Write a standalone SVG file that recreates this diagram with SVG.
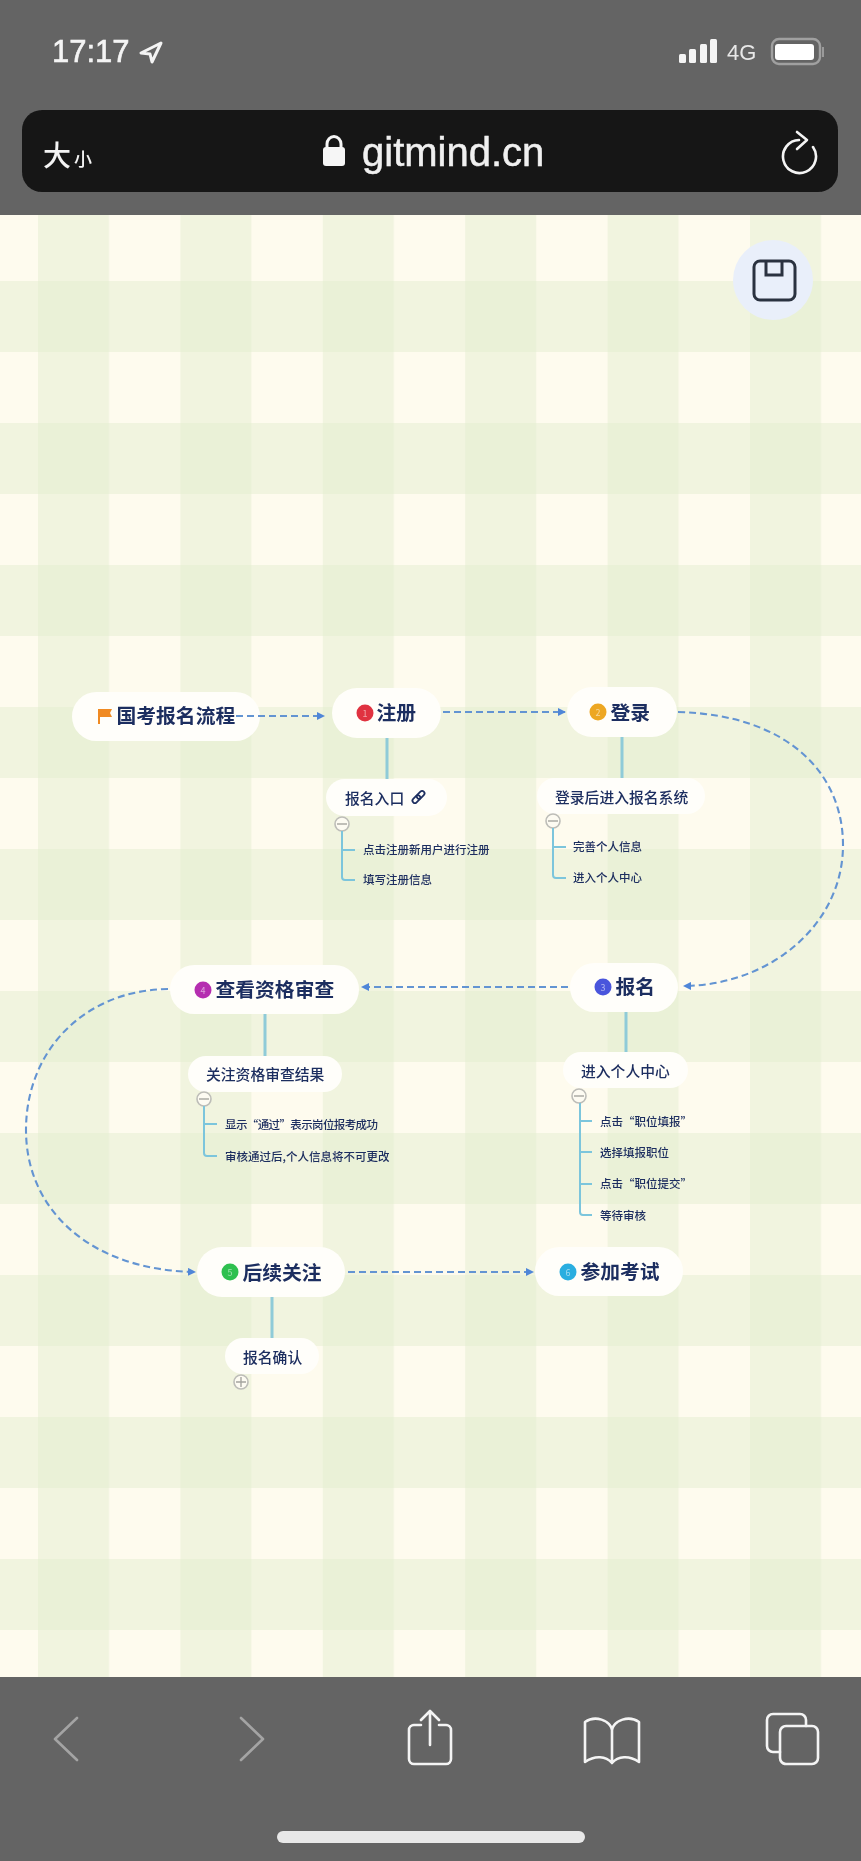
<svg xmlns="http://www.w3.org/2000/svg" width="861" height="1861" viewBox="0 0 861 1861">
<style>
text{font-family:"Noto Sans CJK SC","Liberation Sans",sans-serif;fill:#1f2f60;dominant-baseline:central}
.pill{fill:#fffefa}
.t1{font-size:19.8px;font-weight:700;transform:translate(-.5px,-1.5px)}
.t2{font-size:14.8px;font-weight:500;transform:translateY(-1px)}
.t3{font-size:11.5px;font-weight:500;transform:translateY(-1px)}
.bn{font-size:9px;fill:#fff;text-anchor:middle;fill-opacity:.55}
.stem{stroke:#8fcbd8;stroke-width:3;fill:none}
.br{stroke:#7cc5dc;stroke-width:2;fill:none}
.dash{stroke:#6494d2;stroke-width:2.1;fill:none;stroke-dasharray:7 4;marker-end:url(#ah)}
.fold{fill:#fdfbf2;stroke:#bdbdb8;stroke-width:1.6}
.foldm{stroke:#a5a5a0;stroke-width:1.4;fill:none}
.ic{fill:none;stroke:#f4f4f4;stroke-width:2.6;stroke-linejoin:round;stroke-linecap:round}
.ig{fill:none;stroke:#a4a4a4;stroke-width:2.6;stroke-linecap:round;stroke-linejoin:round}
</style>
<defs>
<marker id="ah" markerWidth="8" markerHeight="8" refX="7" refY="4" orient="auto" markerUnits="userSpaceOnUse"><path d="M0,0 L8,4 L0,8 Z" fill="#4f86d8"/></marker>
<pattern id="vb" patternUnits="userSpaceOnUse" x="38" y="0" width="142.4" height="100"><rect width="71" height="100" fill="#e4edd0" fill-opacity=".5"/></pattern>
<pattern id="hb" patternUnits="userSpaceOnUse" x="0" y="281" width="100" height="142"><rect width="100" height="71" fill="#e4edd0" fill-opacity=".5"/></pattern>
<filter id="soft" x="-5%" y="-5%" width="110%" height="110%"><feGaussianBlur stdDeviation="0.65"/></filter>
</defs>
<rect width="861" height="1861" fill="#646464"/>
<g id="page-bg">
<rect y="215" width="861" height="1462" fill="#fefbee"/>
<rect y="215" width="861" height="1462" fill="url(#vb)"/>
<rect y="215" width="861" height="1462" fill="url(#hb)"/>
</g>
<g filter="url(#soft)">
<g id="status-bar">
<text x="52" y="51" font-size="31" stroke="#f4f4f4" stroke-width=".6" style="font-family:'Liberation Sans',sans-serif;fill:#f4f4f4">17:17</text>
<path d="M161,43 L141,53 L150,54 L152,62 Z" fill="none" stroke="#f4f4f4" stroke-width="3" stroke-linejoin="round"/>
<g fill="#f4f4f4"><rect x="679" y="54" width="7" height="9" rx="1.5"/><rect x="689" y="49" width="7" height="14" rx="1.5"/><rect x="700" y="44" width="7" height="19" rx="1.5"/><rect x="710" y="39" width="7" height="24" rx="1.5"/></g>
<text x="727" y="52" font-size="22" style="font-family:'Liberation Sans',sans-serif;fill:#e8e8e8">4G</text>
<rect x="772" y="39" width="48" height="25" rx="7" fill="none" stroke="#a0a0a0" stroke-width="2.4"/>
<rect x="775" y="44" width="39" height="16" rx="3" fill="#fff"/>
<rect x="822" y="47" width="2" height="10" fill="#9a9a9a"/>
</g>
<g id="url-bar">
<rect x="22" y="110" width="816" height="82" rx="20" fill="#151515"/>
<text x="43" y="154" font-size="28" font-weight="500" style="fill:#f4f4f4">大</text>
<text x="74" y="158" font-size="18" font-weight="500" style="fill:#f4f4f4">小</text>
<rect x="323" y="147" width="22" height="19" rx="3" fill="#f6f6f6"/>
<path d="M327,148 V144 a7,7.5 0 0 1 14,0 V148" fill="none" stroke="#f6f6f6" stroke-width="3"/>
<text x="362" y="152" font-size="40" stroke="#f0f0f0" stroke-width=".5" style="font-family:'Liberation Sans',sans-serif;fill:#f0f0f0">gitmind.cn</text>
<path d="M799,140 A16.5,16.5 0 1 0 813,147" class="ic"/>
<path d="M797,132 L807,140 L797,149" class="ic"/>
</g>
<g id="save-button">
<circle cx="773" cy="280" r="40" fill="#e9effa"/>
<rect x="754" y="261" width="41" height="39" rx="6" fill="none" stroke="#2c3340" stroke-width="3"/>
<path d="M766,261 V275 H782 V261" fill="none" stroke="#2c3340" stroke-width="3"/>
</g>
<g id="node-root">
<rect class="pill" x="72" y="692" width="188" height="49" rx="24.5"/>
<path d="M98,724 V709 H112 L110,713 L112,717 H100 V724 Z" fill="#f08a24"/>
<text class="t1" x="117" y="716">国考报名流程</text>
</g>
<g id="node-1">
<rect class="pill" x="332" y="688" width="109" height="50" rx="25"/>
<circle cx="365" cy="713" r="8.5" fill="#e0333f"/><text class="bn" x="365" y="713">1</text>
<text class="t1" x="377" y="713">注册</text>
</g>
<g id="node-1-1">
<rect class="pill" x="326" y="779" width="121" height="37" rx="18.5"/>
<text class="t2" x="345" y="798">报名入口</text>
<g transform="translate(418.5,797) rotate(-45)" fill="none" stroke="#1f2f60" stroke-width="1.8"><rect x="-7.5" y="-2.4" width="9" height="4.8" rx="2.4"/><rect x="-1.5" y="-2.4" width="9" height="4.8" rx="2.4"/></g>
<circle class="fold" cx="342" cy="824" r="7"/><path class="foldm" d="M337,824 H347"/>
<text class="t3" x="363" y="850">点击注册新用户进行注册</text>
<text class="t3" x="363" y="880">填写注册信息</text>
</g>
<g id="node-2">
<rect class="pill" x="567" y="687" width="110" height="50" rx="25"/>
<circle cx="598" cy="712" r="8.5" fill="#eda720"/><text class="bn" x="598" y="712">2</text>
<text class="t1" x="611" y="713">登录</text>
</g>
<g id="node-2-1">
<rect class="pill" x="537" y="778" width="168" height="36" rx="18"/>
<text class="t2" x="555" y="797">登录后进入报名系统</text>
<circle class="fold" cx="553" cy="821" r="7"/><path class="foldm" d="M548,821 H558"/>
<text class="t3" x="573" y="847">完善个人信息</text>
<text class="t3" x="573" y="878">进入个人中心</text>
</g>
<g id="node-3">
<rect class="pill" x="570" y="963" width="108" height="49" rx="24.5"/>
<circle cx="603" cy="987" r="8.5" fill="#4a55dc"/><text class="bn" x="603" y="987">3</text>
<text class="t1" x="616" y="987">报名</text>
</g>
<g id="node-3-1">
<rect class="pill" x="563" y="1052" width="125" height="36" rx="18"/>
<text class="t2" x="581" y="1071">进入个人中心</text>
<circle class="fold" cx="579" cy="1096" r="7"/><path class="foldm" d="M574,1096 H584"/>
<text class="t3" x="600" y="1122">点击“职位填报”</text>
<text class="t3" x="600" y="1153">选择填报职位</text>
<text class="t3" x="600" y="1184">点击“职位提交”</text>
<text class="t3" x="600" y="1216">等待审核</text>
</g>
<g id="node-4">
<rect class="pill" x="170" y="965" width="189" height="49" rx="24.5"/>
<circle cx="203" cy="990" r="8.5" fill="#b52fb0"/><text class="bn" x="203" y="990">4</text>
<text class="t1" x="216" y="990">查看资格审查</text>
</g>
<g id="node-4-1">
<rect class="pill" x="188" y="1056" width="154" height="36" rx="18"/>
<text class="t2" x="206" y="1074">关注资格审查结果</text>
<circle class="fold" cx="204" cy="1099" r="7"/><path class="foldm" d="M199,1099 H209"/>
<text class="t3" x="225" y="1125" textLength="153">显示“通过”表示岗位报考成功</text>
<text class="t3" x="225" y="1157">审核通过后,个人信息将不可更改</text>
</g>
<g id="node-5">
<rect class="pill" x="197" y="1247" width="148" height="50" rx="25"/>
<circle cx="230" cy="1272" r="8.5" fill="#2fc050"/><text class="bn" x="230" y="1272">5</text>
<text class="t1" x="243" y="1273">后续关注</text>
</g>
<g id="node-5-1">
<rect class="pill" x="225" y="1338" width="94" height="36" rx="18"/>
<text class="t2" x="243" y="1357">报名确认</text>
<circle class="fold" cx="241" cy="1382" r="7"/><path class="foldm" d="M236,1382 H246 M241,1377 V1387"/>
</g>
<g id="node-6">
<rect class="pill" x="535" y="1247" width="148" height="49" rx="24.5"/>
<circle cx="568" cy="1272" r="8.5" fill="#29aee0"/><text class="bn" x="568" y="1272">6</text>
<text class="t1" x="581" y="1272">参加考试</text>
</g>
<g id="connectors">
<path class="dash" d="M236,716 H324"/>
<path class="dash" d="M443,712 H565"/>
<path class="dash" d="M678,712 C790,715 843,775 843,845 C843,925 770,985 684,986"/>
<path class="dash" d="M568,987 H362"/>
<path class="dash" d="M168,989 C85,990 26,1050 26,1130 C26,1210 90,1270 195,1272"/>
<path class="dash" d="M348,1272 H533"/>
<path class="stem" d="M387,738 V779"/>
<path class="stem" d="M622,737 V778"/>
<path class="stem" d="M626,1012 V1052"/>
<path class="stem" d="M265,1014 V1056"/>
<path class="stem" d="M272,1297 V1338"/>
<path class="br" d="M342,831 V877 q0,3 3,3 H355 M342,850 H355"/>
<path class="br" d="M553,828 V875 q0,3 3,3 H566 M553,847 H566"/>
<path class="br" d="M580,1103 V1212 q0,3 3,3 H592 M580,1121 H592 M580,1152 H592 M580,1184 H592"/>
<path class="br" d="M204,1106 V1153 q0,3 3,3 H217 M204,1124 H217"/>
</g>
<g id="toolbar">
<path class="ig" d="M77,1718 L55,1739 L77,1760"/>
<path class="ig" d="M241,1718 L263,1739 L241,1760"/>
<path class="ic" d="M421,1725 H414 a5,5 0 0 0 -5,5 V1759 a5,5 0 0 0 5,5 H446 a5,5 0 0 0 5,-5 V1730 a5,5 0 0 0 -5,-5 H439"/>
<path class="ic" d="M430,1745 V1711 M421,1720 L430,1711 L439,1720"/>
<path class="ic" d="M612,1762 V1730 C610,1720 595,1715 585,1722 V1762 C595,1755 606,1756 612,1763 C618,1756 629,1755 639,1762 V1722 C629,1715 614,1720 612,1730"/>
<path class="ic" d="M780,1752 H773 a6,6 0 0 1 -6,-6 V1720 a6,6 0 0 1 6,-6 H800 a6,6 0 0 1 6,6 V1726"/>
<rect class="ic" x="780" y="1726" width="38" height="38" rx="6"/>
<rect x="277" y="1831" width="308" height="12" rx="6" fill="#e8e8e8"/>
</g>
</g>
</svg>
